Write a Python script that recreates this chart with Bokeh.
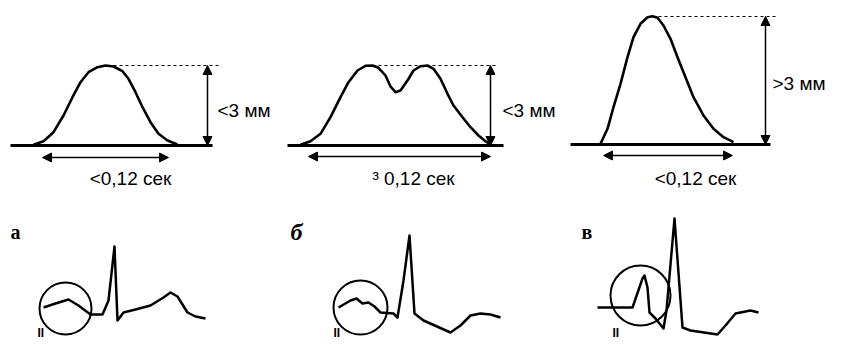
from bokeh.plotting import figure
from bokeh.models import Range1d, Arrow, NormalHead
from bokeh.core.properties import value
from bokeh.embed import file_html
from bokeh.resources import INLINE

# ---- data (pixel-space units) ----
# top row: P-wave shapes
wave_a_x = [33, 43, 53, 63, 72, 80, 88, 97, 105, 113, 122, 128, 135, 142, 150, 158, 167, 177]
wave_a_y = [144.3, 140.7, 131.7, 115, 96.7, 81.7, 71.7, 66.7, 65, 66, 70.7, 78.3, 91.7, 106.7, 121.7, 133.3, 140, 144]

wave_b_x = [300, 310, 320, 330, 340, 348, 357, 365, 372, 378, 385, 390, 395, 400, 407, 413, 420, 427, 433, 440, 447, 453, 462, 470, 478, 485, 490]
wave_b_y = [144.3, 140.7, 133.3, 116.7, 96.7, 81.7, 70, 65.3, 65, 67.3, 75, 86, 91.7, 90, 80, 70, 65.7, 65, 68.3, 78.3, 93.3, 105, 116.7, 126.7, 135, 140.7, 144]

wave_c_x = [600, 607, 613, 620, 627, 633, 640, 647, 652, 657, 663, 670, 677, 685, 693, 703, 713, 723, 733]
wave_c_y = [143.3, 128.3, 106.7, 83.3, 56.7, 36.7, 23.3, 16.7, 15.7, 17.3, 25, 38.3, 56.7, 76.7, 96.7, 115, 128.3, 136.7, 141.7]

base_x0 = [10, 287, 570]
base_x1 = [212, 503, 770]
base_y = [145, 145, 144]

peak_x = [113, 372, 652]
peak_y = [65, 65, 16]
dash_end_x = [218, 497, 778]

vert_x = [207, 490, 765]

harr_x0 = [42, 308, 603]
harr_x1 = [168, 490, 732]
harr_y = [157, 156, 155]

amp_labels = ["<3 мм", "<3 мм", ">3 мм"]
amp_label_x = [217, 502, 772]
amp_label_y = [110, 110, 83]

dur_labels = ["<0,12 сек", "³ 0,12 сек", "<0,12 сек"]
dur_label_x = [130, 413, 695]
dur_label_y = [178, 178, 178]

# bottom row: ECG complexes, lead II
ecg_a_x = [43, 55, 68, 78, 90, 102, 108, 114, 117, 123, 135, 150, 163, 170, 177, 187, 195, 205]
ecg_a_y = [307, 303, 299, 305, 314, 314, 300, 246, 320, 312, 309, 305, 297, 292, 296, 312, 316, 318]

ecg_b_x = [338, 350, 356, 362, 368, 374, 380, 393, 397, 403, 409, 414, 423, 450, 460, 470, 480, 490, 500]
ecg_b_y = [307, 300, 298, 303, 302, 306, 312, 313, 317, 280, 235, 313, 320, 332, 325, 315, 313, 314, 317]

ecg_c_x = [597, 632, 642, 644, 647, 649, 655, 663, 666, 674, 682, 690, 717, 725, 735, 750, 758]
ecg_c_y = [307, 307, 278, 275, 287, 312, 318, 328, 310, 218, 327, 330, 334, 325, 313, 310, 312]

circ_x = [65, 360, 640]
circ_y = [308, 307, 295]
circ_r = [26, 27, 30]

panel_letters = ["а", "б", "в"]
letter_x = [10, 290, 581]
letter_y = [231, 231, 231]

lead_labels = ["II", "II", "II"]
lead_x = [37, 333, 612]
lead_y = [325, 325, 325]

# ---- figure (picture pixels map 1:1 to data units) ----
p = figure(width=827, height=341, x_range=Range1d(0, 827), y_range=Range1d(341, 0),
           output_backend="svg", toolbar_location=None, min_border=0)
p.axis.visible = False
p.grid.visible = False
p.outline_line_color = None
p.background_fill_color = "white"

for wx, wy in [(wave_a_x, wave_a_y), (wave_b_x, wave_b_y), (wave_c_x, wave_c_y)]:
    p.line(wx, wy, line_color="black", line_width=2.6, line_join="round")

p.segment(x0=base_x0, y0=base_y, x1=base_x1, y1=base_y, line_color="black", line_width=3)
p.segment(x0=peak_x, y0=peak_y, x1=dash_end_x, y1=peak_y, line_color="black",
          line_width=1, line_dash="3 3")

for i in range(3):
    p.add_layout(Arrow(x_start=vert_x[i], y_start=peak_y[i], x_end=vert_x[i], y_end=base_y[i],
                       line_color="black", line_width=1.5,
                       start=NormalHead(size=9, fill_color="black", line_color="black"),
                       end=NormalHead(size=9, fill_color="black", line_color="black")))
    p.add_layout(Arrow(x_start=harr_x0[i], y_start=harr_y[i], x_end=harr_x1[i], y_end=harr_y[i],
                       line_color="black", line_width=1.5,
                       start=NormalHead(size=9, fill_color="black", line_color="black"),
                       end=NormalHead(size=9, fill_color="black", line_color="black")))

p.text(x=amp_label_x, y=amp_label_y, text=amp_labels, text_font=value("Liberation Sans"),
       text_font_size="19px", text_baseline="middle", text_align="left", text_color="black")
p.text(x=dur_label_x, y=dur_label_y, text=dur_labels, text_font=value("Liberation Sans"),
       text_font_size="19px", text_baseline="middle", text_align="center", text_color="black")

for ex, ey in [(ecg_a_x, ecg_a_y), (ecg_b_x, ecg_b_y), (ecg_c_x, ecg_c_y)]:
    p.line(ex, ey, line_color="black", line_width=2.5, line_join="round")

p.circle(x=circ_x, y=circ_y, radius=circ_r, fill_color=None, line_color="black", line_width=2)

p.text(x=letter_x[0:1], y=letter_y[0:1], text=panel_letters[0:1], text_font=value("Liberation Serif"),
       text_font_size="20px", text_font_style="bold", text_baseline="alphabetic", text_color="black")
p.text(x=letter_x[1:2], y=letter_y[1:2], text=panel_letters[1:2], text_font=value("Liberation Serif"),
       text_font_size="24px", text_font_style="bold italic", text_baseline="alphabetic", text_color="black")
p.text(x=letter_x[2:3], y=letter_y[2:3], text=panel_letters[2:3], text_font=value("Liberation Serif"),
       text_font_size="20px", text_font_style="bold", text_baseline="alphabetic", text_color="black")

p.text(x=lead_x, y=lead_y, text=lead_labels, text_font=value("Liberation Sans"),
       text_font_size="12px", text_font_style="bold", text_baseline="top", text_color="black")

open("out.html", "w").write(file_html(p, INLINE))
